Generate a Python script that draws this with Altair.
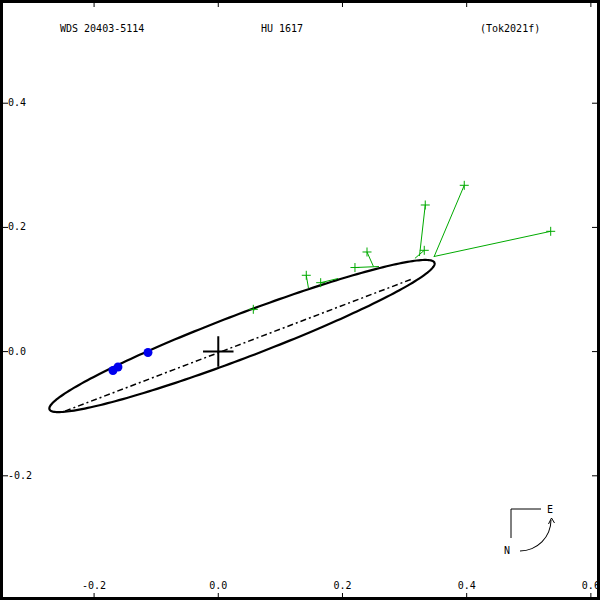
import numpy as np
import pandas as pd
import altair as alt

# ---- values ----
# observed positions (green +) and their predicted positions on the orbit
obs_x = [0.0564, 0.1417, 0.1649, 0.2201, 0.2395, 0.3333, 0.3317, 0.3961, 0.5353]
obs_y = [0.0681, 0.1229, 0.1110, 0.1354, 0.1604, 0.2361, 0.1631, 0.2678, 0.1937]
calc_x = [0.0575, 0.1452, 0.1928, 0.2588, 0.2499, 0.3240, 0.3167, 0.3473, 0.3473]
calc_y = [0.0662, 0.1024, 0.1177, 0.1370, 0.1370, 0.1539, 0.1502, 0.1523, 0.1531]

# speckle measures (blue dots)
spk_x = [-0.1696, -0.1615, -0.1132]
spk_y = [-0.0304, -0.0248, -0.0014]

# apparent orbit ellipse (centre, semi-axes, position angle of major axis, deg)
ell_cx, ell_cy = 0.0382, 0.0251
ell_a, ell_b = 0.3317, 0.0350
ell_angle = 20.85

# line of nodes end points
nodes_x = [-0.2469, 0.3119]
nodes_y = [-0.0958, 0.1169]

# axis ticks
xticks = [-0.2, 0.0, 0.2, 0.4, 0.6]
yticks = [-0.2, 0.0, 0.2, 0.4]
xtick_labels = ["-0.2", "0.0", "0.2", "0.4", "0.6"]
ytick_labels = ["-0.2", "0.0", "0.2", "0.4"]

title_left = "WDS 20403-5114"
title_mid = "HU 1617"
title_right = "(Tok2021f)"

FONT = "DejaVu Sans Mono"
GREEN = "#00aa00"
BLUE = "#0000ee"

xs = alt.Scale(domain=[-0.3515, 0.6147], nice=False, zero=False)
ys = alt.Scale(domain=[-0.4, 0.5662], nice=False, zero=False)

# ellipse curve
t = np.linspace(0, 2 * np.pi, 241)
th = np.radians(ell_angle)
ex = ell_cx + ell_a * np.cos(t) * np.cos(th) - ell_b * np.sin(t) * np.sin(th)
ey = ell_cy + ell_a * np.cos(t) * np.sin(th) + ell_b * np.sin(t) * np.cos(th)
ell_df = pd.DataFrame({"x": ex, "y": ey, "i": np.arange(len(t))})

ellipse = alt.Chart(ell_df).mark_line(color="black", strokeWidth=2.2).encode(
    x=alt.X("x:Q", scale=xs, axis=None),
    y=alt.Y("y:Q", scale=ys, axis=None),
    order="i:Q",
)

nodes_df = pd.DataFrame({"x": [nodes_x[0]], "y": [nodes_y[0]], "x2": [nodes_x[1]], "y2": [nodes_y[1]]})
nodes = alt.Chart(nodes_df).mark_rule(color="black", strokeWidth=1.5, strokeDash=[6, 3, 2, 3]).encode(
    x=alt.X("x:Q", scale=xs, axis=None), y=alt.Y("y:Q", scale=ys, axis=None), x2="x2:Q", y2="y2:Q"
)

res_df = pd.DataFrame({"ox": obs_x, "oy": obs_y, "cx": calc_x, "cy": calc_y})
resid = alt.Chart(res_df).mark_rule(color=GREEN, strokeWidth=1).encode(
    x=alt.X("ox:Q", scale=xs, axis=None), y=alt.Y("oy:Q", scale=ys, axis=None), x2="cx:Q", y2="cy:Q"
)
PLUS = "M-1,0H1M0,-1V1"
obs = alt.Chart(res_df).mark_point(shape=PLUS, size=81, color=GREEN, strokeWidth=1, filled=False, opacity=1).encode(
    x=alt.X("ox:Q", scale=xs, axis=None), y=alt.Y("oy:Q", scale=ys, axis=None)
)

spk_df = pd.DataFrame({"x": spk_x, "y": spk_y})
spk = alt.Chart(spk_df).mark_circle(size=80, color=BLUE, opacity=1).encode(
    x=alt.X("x:Q", scale=xs, axis=None), y=alt.Y("y:Q", scale=ys, axis=None)
)

prim_df = pd.DataFrame({"x": [0.0], "y": [0.0]})
primary = alt.Chart(prim_df).mark_point(shape=PLUS, size=930, color="black", strokeWidth=2, filled=False, opacity=1).encode(
    x=alt.X("x:Q", scale=xs, axis=None), y=alt.Y("y:Q", scale=ys, axis=None)
)

# ticks and labels
xt_df = pd.DataFrame({"v": xticks, "lab": xtick_labels})
yt_df = pd.DataFrame({"v": yticks, "lab": ytick_labels})
xt_top = alt.Chart(xt_df).mark_rule(color="black", strokeWidth=1).encode(
    x=alt.X("v:Q", scale=xs, axis=None), y=alt.value(0), y2=alt.value(7))
xt_bot = alt.Chart(xt_df).mark_rule(color="black", strokeWidth=1).encode(
    x=alt.X("v:Q", scale=xs, axis=None), y=alt.value(593), y2=alt.value(600))
yt_left = alt.Chart(yt_df).mark_rule(color="black", strokeWidth=1).encode(
    y=alt.Y("v:Q", scale=ys, axis=None), x=alt.value(0), x2=alt.value(8))
yt_right = alt.Chart(yt_df).mark_rule(color="black", strokeWidth=1).encode(
    y=alt.Y("v:Q", scale=ys, axis=None), x=alt.value(592), x2=alt.value(600))
xlab = alt.Chart(xt_df).mark_text(font=FONT, fontSize=10, align="center", baseline="middle", color="black").encode(
    x=alt.X("v:Q", scale=xs, axis=None), y=alt.value(586), text="lab:N")
ylab = alt.Chart(yt_df).mark_text(font=FONT, fontSize=10, align="left", baseline="middle", color="black").encode(
    y=alt.Y("v:Q", scale=ys, axis=None), x=alt.value(8), text="lab:N")

one = alt.Data(values=[{"a": 1}])


def txt(s, x, y, align="left"):
    return alt.Chart(one).mark_text(font=FONT, fontSize=10, align=align, baseline="middle", color="black", text=s).encode(
        x=alt.value(x), y=alt.value(y))


def seg(x1, y1, x2, y2, w=1):
    return alt.Chart(one).mark_rule(color="black", strokeWidth=w).encode(
        x=alt.value(x1), y=alt.value(y1), x2=alt.value(x2), y2=alt.value(y2))


titles = [txt(title_left, 60, 29), txt(title_mid, 261, 29), txt(title_right, 480, 29)]

compass = [
    seg(511, 509, 511, 538),
    seg(511, 509, 541, 509),
    txt("E", 550, 510, "center"),
    txt("N", 507, 551, "center"),
    alt.Chart(one).mark_arc(radius=31.5, radius2=30.5, theta=1.5708, theta2=3.1416, color="black").encode(
        x=alt.value(520), y=alt.value(520)),
    seg(551.5, 518, 548.5, 524),
    seg(551.5, 518, 554.5, 523),
]

frame = alt.Chart(one).mark_rect(fillOpacity=0, stroke="black", strokeWidth=6).encode(
    x=alt.value(0), x2=alt.value(600), y=alt.value(0), y2=alt.value(600))

chart = alt.layer(
    ellipse, nodes, resid, obs, spk, primary,
    xt_top, xt_bot, yt_left, yt_right, xlab, ylab,
    *titles, *compass, frame,
).properties(width=600, height=600, padding=0, autosize="none", background="white").configure_view(stroke=None)

chart.save("out.html", embed_options={"renderer": "svg", "actions": False})
